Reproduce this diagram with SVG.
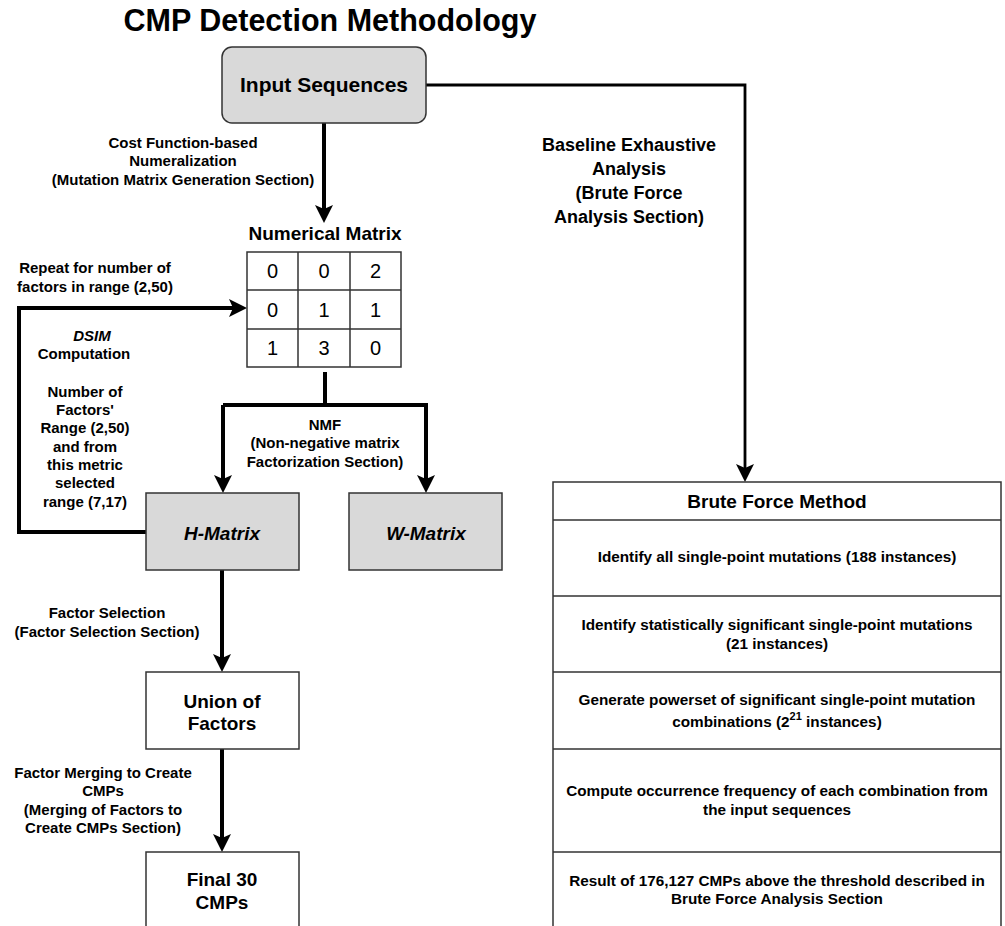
<svg xmlns="http://www.w3.org/2000/svg" width="1005" height="926" viewBox="0 0 1005 926">
<style>
text{font-family:"Liberation Sans",Arial,sans-serif;font-weight:bold;fill:#000;text-anchor:middle}
.title{font-size:30.5px}
.lbl{font-size:15px}
.row{font-size:15.3px}
.big{font-size:19px}
.num{font-size:20px;font-weight:normal}
.it{font-style:italic}
.gray{fill:#d9d9d9;stroke:#333;stroke-width:1.5}
.white{fill:#fff;stroke:#333;stroke-width:1.5}
.grid{fill:none;stroke:#333;stroke-width:1.5}
.conn{fill:none;stroke:#000;stroke-width:4;stroke-linejoin:miter}
.conn2{fill:none;stroke:#000;stroke-width:2.8;stroke-linejoin:miter}
</style>
<defs>
<marker id="arr" viewBox="0 0 18 18" markerUnits="userSpaceOnUse" markerWidth="18" markerHeight="18" refX="9" refY="9" orient="auto">
<path d="M0,0 L18,9 L0,18 L4,9 Z" fill="#000"/>
</marker>
</defs>
<rect width="1005" height="926" fill="#fff"/>
<text class="title" x="330" y="31">CMP Detection Methodology</text>

<g id="connectors">
<path class="conn" d="M324,123 L324,214" marker-end="url(#arr)"/>
<path class="conn2" d="M426,85 L745,85 L745,473" marker-end="url(#arr)"/>
<path class="conn" d="M146,532 L19,532 L19,308 L238,308" marker-end="url(#arr)"/>
<path class="conn" d="M325,372 L325,405"/>
<path class="conn" d="M223,405 L223,484" marker-end="url(#arr)"/>
<path class="conn" d="M223,405 L426,405 L426,484" marker-end="url(#arr)"/>
<path class="conn" d="M222,570 L222,663" marker-end="url(#arr)"/>
<path class="conn" d="M222,749 L222,843" marker-end="url(#arr)"/>
</g>

<g id="edge-labels">
<text class="lbl" x="183" y="148">Cost Function-based</text>
<text class="lbl" x="183" y="166">Numeralization</text>
<text class="lbl" x="183" y="185">(Mutation Matrix Generation Section)</text>
<text class="lbl" x="95" y="273">Repeat for number of</text>
<text class="lbl" x="95" y="292">factors in range (2,50)</text>
<text class="lbl it" x="92" y="341">DSIM</text>
<text class="lbl" x="84" y="359">Computation</text>
<text class="lbl" x="85" y="397">Number of</text>
<text class="lbl" x="85" y="415">Factors'</text>
<text class="lbl" x="85" y="433">Range (2,50)</text>
<text class="lbl" x="85" y="452">and from</text>
<text class="lbl" x="85" y="470">this metric</text>
<text class="lbl" x="85" y="488">selected</text>
<text class="lbl" x="85" y="507">range (7,17)</text>
<text class="lbl" x="325" y="430">NMF</text>
<text class="lbl" x="325" y="448">(Non-negative matrix</text>
<text class="lbl" x="325" y="467">Factorization Section)</text>
<text class="lbl" x="107" y="618">Factor Selection</text>
<text class="lbl" x="107" y="637">(Factor Selection Section)</text>
<text class="lbl" x="103" y="778">Factor Merging to Create</text>
<text class="lbl" x="103" y="796">CMPs</text>
<text class="lbl" x="103" y="815">(Merging of Factors to</text>
<text class="lbl" x="103" y="833">Create CMPs Section)</text>
<text x="629" y="151" style="font-size:18px">Baseline Exhaustive</text>
<text x="629" y="175" style="font-size:18px">Analysis</text>
<text x="629" y="199" style="font-size:18px">(Brute Force</text>
<text x="629" y="223" style="font-size:18px">Analysis Section)</text>
</g>

<g id="input-sequences">
<rect class="gray" x="222" y="47" width="204" height="76" rx="10" ry="10"/>
<text x="324" y="92" style="font-size:21px">Input Sequences</text>
</g>

<g id="numerical-matrix">
<text class="big" x="325" y="240">Numerical Matrix</text>
<rect class="grid" x="247" y="252" width="154" height="115"/>
<path class="grid" d="M298,252 V367 M350,252 V367 M247,290 H401 M247,329 H401"/>
<text class="num" x="272.5" y="278">0</text>
<text class="num" x="324" y="278">0</text>
<text class="num" x="375.5" y="278">2</text>
<text class="num" x="272.5" y="317">0</text>
<text class="num" x="324" y="317">1</text>
<text class="num" x="375.5" y="317">1</text>
<text class="num" x="272.5" y="355">1</text>
<text class="num" x="324" y="355">3</text>
<text class="num" x="375.5" y="355">0</text>
</g>

<g id="h-matrix">
<rect class="gray" x="146" y="493" width="153" height="77"/>
<text class="big it" x="222" y="540">H-Matrix</text>
</g>

<g id="w-matrix">
<rect class="gray" x="349" y="493" width="153" height="77"/>
<text class="big it" x="426" y="540">W-Matrix</text>
</g>

<g id="union-of-factors">
<rect class="white" x="146" y="672" width="153" height="77"/>
<text class="big" x="222" y="708">Union of</text>
<text class="big" x="222" y="730">Factors</text>
</g>

<g id="final-cmps">
<rect class="white" x="146" y="852" width="153" height="90"/>
<text class="big" x="222" y="886">Final 30</text>
<text class="big" x="222" y="909">CMPs</text>
</g>

<g id="brute-force-method">
<rect class="white" x="553" y="482" width="448" height="460"/>
<path class="grid" d="M553,520 H1001 M553,596 H1001 M553,672 H1001 M553,749 H1001 M553,852 H1001"/>
<text class="big" x="777" y="508">Brute Force Method</text>
<text class="row" x="777" y="562">Identify all single-point mutations (188 instances)</text>
<text class="row" x="777" y="630">Identify statistically significant single-point mutations</text>
<text class="row" x="777" y="649">(21 instances)</text>
<text class="row" x="777" y="705">Generate powerset of significant single-point mutation</text>
<text class="row" x="777" y="727">combinations (2<tspan dy="-7" style="font-size:11px">21</tspan><tspan dy="7"> instances)</tspan></text>
<text class="row" x="777" y="796">Compute occurrence frequency of each combination from</text>
<text class="row" x="777" y="815">the input sequences</text>
<text class="row" x="777" y="886">Result of 176,127 CMPs above the threshold described in</text>
<text class="row" x="777" y="904">Brute Force Analysis Section</text>
</g>
</svg>
